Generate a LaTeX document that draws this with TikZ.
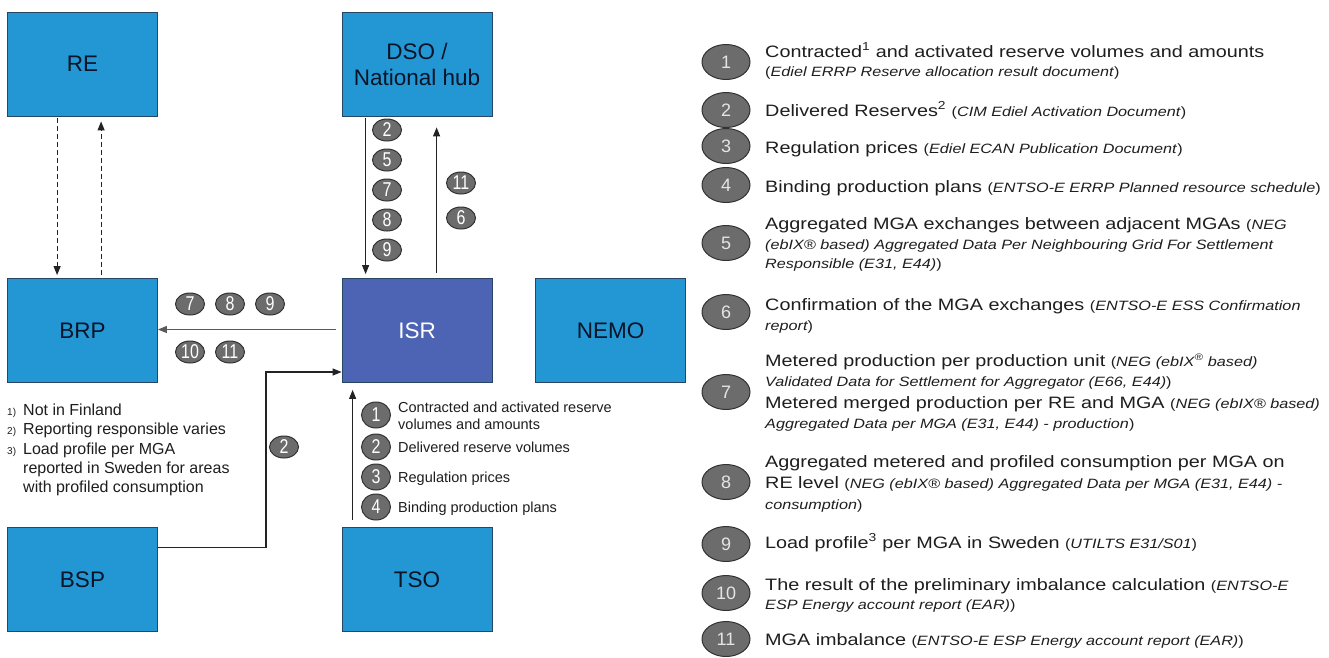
\documentclass[tikz,border=0pt]{standalone}
\usepackage{fontspec}
\setmainfont{Liberation Sans}
\newfontfamily\legfont{Liberation Sans}[FakeStretch=1.2]
\newfontfamily\numfont{Liberation Sans}[FakeStretch=0.8]
\usetikzlibrary{arrows.meta,shapes.geometric,calc}
\definecolor{boxblue}{RGB}{35,151,211}
\definecolor{isrblue}{RGB}{77,99,179}
\definecolor{boxborder}{RGB}{40,70,100}
\definecolor{boxtext}{RGB}{10,20,40}
\definecolor{circgray}{RGB}{108,108,108}
\definecolor{circline}{RGB}{50,50,50}
\definecolor{legtext}{RGB}{30,30,30}
\definecolor{arrcol}{RGB}{35,35,35}
\newcommand{\lm}{\legfont\fontsize{16.5}{19}\selectfont}
\newcommand{\ls}{\legfont\fontsize{13.5}{16}\selectfont}
\tikzset{
  boxst/.style={draw=boxborder, line width=0.8pt, fill=boxblue, minimum width=150pt, minimum height=104pt, inner sep=0pt, font=\fontsize{22.5}{26}\selectfont, text=boxtext, align=center},
  arr/.style={draw=arrcol, line width=1.1pt, -{Triangle[length=9pt,width=7pt]}},
  dcirc/.style={ellipse, draw=circline, line width=1pt, fill=circgray, minimum width=29pt, minimum height=22pt, inner sep=0pt, text=white, font=\numfont\fontsize{20}{20}\selectfont},
  tcirc/.style={dcirc, minimum height=26pt},
  lcirc/.style={ellipse, draw=circline, line width=1pt, fill=circgray, minimum width=48pt, minimum height=35pt, inner sep=0pt, text=white!90!black, font=\fontsize{18}{18}\selectfont},
  leg/.style={anchor=base west, inner sep=0pt, text=legtext, font=\lm},
  legi/.style={anchor=base west, inner sep=0pt, text=legtext, font=\ls\itshape},
  tlab/.style={anchor=base west, inner sep=0pt, text=legtext, font=\fontsize{14.5}{17}\selectfont},
  fn/.style={anchor=base west, inner sep=0pt, text=legtext, font=\fontsize{16}{19}\selectfont},
  fnn/.style={anchor=base west, inner sep=0pt, text=legtext, font=\fontsize{10}{12}\selectfont},
}
\begin{document}
\begin{tikzpicture}[x=1pt,y=-1pt]
\useasboundingbox (0,0) rectangle (1329,657);
\fill[white] (0,0) rectangle (1329,657);

% boxes
\node[boxst] (RE) at (82.5,64) {RE};
\node[boxst] (DSO) at (417,64) {DSO /\\National hub};
\node[boxst] (BRP) at (82.5,330.5) {BRP};
\node[boxst, fill=isrblue, text=white] (ISR) at (417,330.5) {ISR};
\node[boxst] (NEMO) at (610.5,330.5) {NEMO};
\node[boxst] (BSP) at (82.5,579.5) {BSP};
\node[boxst] (TSO) at (417,579.5) {TSO};

% RE <-> BRP dashed
\draw[arr, dashed, dash pattern=on 5pt off 3pt] ($(RE.south west)+(50,2)$) -- ($(BRP.north west)+(50,-3)$);
\draw[arr, dashed, dash pattern=on 5pt off 3pt] ($(BRP.north west)+(94,-3)$) -- ($(RE.south west)+(94,5)$);

% DSO <-> ISR
\draw[arr] ($(DSO.south west)+(24,2)$) -- ($(ISR.north west)+(24,-4)$);
\draw[arr] ($(ISR.north west)+(95,-5)$) -- ($(DSO.south west)+(95,11)$);

% ISR -> BRP
\draw[arr, draw=arrcol!75] ($(ISR.west)+(-6,-1)$) -- ($(BRP.east)+(0,-1)$);

% BSP -> ISR
\coordinate (bspturn) at (266,372);
\draw[arr] ($(BSP.north east)+(0,20)$) -| (bspturn) -- (bspturn -| ISR.west);

% TSO -> ISR
\draw[arr] ($(TSO.north west)+(11,-7)$) -- ($(ISR.south west)+(11,7)$);

% circles on DSO -> ISR
\node[dcirc] (d2) at (387,130) {2};
\node[dcirc] (d5) at (387,160) {5};
\node[dcirc] (d7) at (387,190) {7};
\node[dcirc] (d8) at (387,220) {8};
\node[dcirc] (d9) at (387,250) {9};
\node[dcirc] (u11) at (461,183) {11};
\node[dcirc] (u6) at (461,218) {6};

% circles on ISR -> BRP
\node[dcirc] (b7) at (190,304) {7};
\node[dcirc] (b8) at (230,304) {8};
\node[dcirc] (b9) at (270,304) {9};
\node[dcirc] (b10) at (190,352) {10};
\node[dcirc] (b11) at (230,352) {11};

% circle on BSP -> ISR
\node[dcirc] (s2) at (284,447) {2};

% TSO circles and labels
\node[tcirc] (t1) at (376,415) {1};
\node[tcirc] (t2) at (376,447) {2};
\node[tcirc] (t3) at (376,477) {3};
\node[tcirc] (t4) at (376,507) {4};
\node[tlab] (t1a) at (398,412) {Contracted and activated reserve};
\node[tlab] (t1b) at (398,429) {volumes and amounts};
\node[tlab] (t2a) at (398,452) {Delivered reserve volumes};
\node[tlab] (t3a) at (398,482) {Regulation prices};
\node[tlab] (t4a) at (398,512) {Binding production plans};

% footnotes
\node[fnn] (f1n) at (7,415) {1)};
\node[fn] (f1) at (23,415) {Not in Finland};
\node[fnn] (f2n) at (7,434) {2)};
\node[fn] (f2) at (23,434) {Reporting responsible varies};
\node[fnn] (f3n) at (7,454) {3)};
\node[fn] (f3) at (23,454) {Load profile per MGA};
\node[fn] (f3b) at (23,473) {reported in Sweden for areas};
\node[fn] (f3c) at (23,492) {with profiled consumption};

% legend
\node[lcirc] (c1) at (726,62) {1};
\node[lcirc] (c2) at (726,110) {2};
\node[lcirc] (c3) at (726,146) {3};
\node[lcirc] (c4) at (726,185) {4};
\node[lcirc] (c5) at (726,243) {5};
\node[lcirc] (c6) at (726,312) {6};
\node[lcirc] (c7) at (726,392) {7};
\node[lcirc] (c8) at (726,482) {8};
\node[lcirc] (c9) at (726,544) {9};
\node[lcirc] (c10) at (726,593) {10};
\node[lcirc] (c11) at (726,639) {11};

\node[leg] (l1a) at (765,57) {Contracted\textsuperscript{1} and activated reserve volumes and amounts};
\node[leg] (l1b) at (765,76) {\ls(\textit{Ediel ERRP Reserve allocation result document})};
\node[leg] (l2a) at (765,116) {Delivered Reserves\textsuperscript{2} {\ls(\textit{CIM Ediel Activation Document})}};
\node[leg] (l3a) at (765,153) {Regulation prices {\ls(\textit{Ediel ECAN Publication Document})}};
\node[leg] (l4a) at (765,192) {Binding production plans {\ls(\textit{ENTSO-E ERRP Planned resource schedule})}};
\node[leg] (l5a) at (765,229) {Aggregated MGA exchanges between adjacent MGAs {\ls(\textit{NEG}}};
\node[legi] (l5b) at (765,249) {(ebIX® based) Aggregated Data Per Neighbouring Grid For Settlement};
\node[legi] (l5c) at (765,268) {Responsible (E31, E44)\upshape)};
\node[leg] (l6a) at (765,310) {Confirmation of the MGA exchanges {\ls(\textit{ENTSO-E ESS Confirmation}}};
\node[legi] (l6b) at (765,330) {report\upshape)};
\node[leg] (l7a) at (765,366) {Metered production per production unit {\ls(\textit{NEG (ebIX\textsuperscript{®} based)}}};
\node[legi] (l7b) at (765,386) {Validated Data for Settlement for Aggregator (E66, E44)\upshape)};
\node[leg] (l7c) at (765,408) {Metered merged production per RE and MGA {\ls(\textit{NEG (ebIX® based)}}};
\node[legi] (l7d) at (765,428) {Aggregated Data per MGA (E31, E44) - production\upshape)};
\node[leg] (l8a) at (765,467) {Aggregated metered and profiled consumption per MGA on};
\node[leg] (l8b) at (765,488) {RE level {\ls(\textit{NEG (ebIX® based) Aggregated Data per MGA (E31, E44) -}}};
\node[legi] (l8c) at (765,509) {consumption\upshape)};
\node[leg] (l9a) at (765,548) {Load profile\textsuperscript{3} per MGA in Sweden {\ls(\textit{UTILTS E31/S01})}};
\node[leg] (l10a) at (765,590) {The result of the preliminary imbalance calculation {\ls(\textit{ENTSO-E}}};
\node[legi] (l10b) at (765,609) {ESP Energy account report (EAR)\upshape)};
\node[leg] (l11a) at (765,645) {MGA imbalance {\ls(\textit{ENTSO-E ESP Energy account report (EAR)})}};
\end{tikzpicture}
\end{document}
